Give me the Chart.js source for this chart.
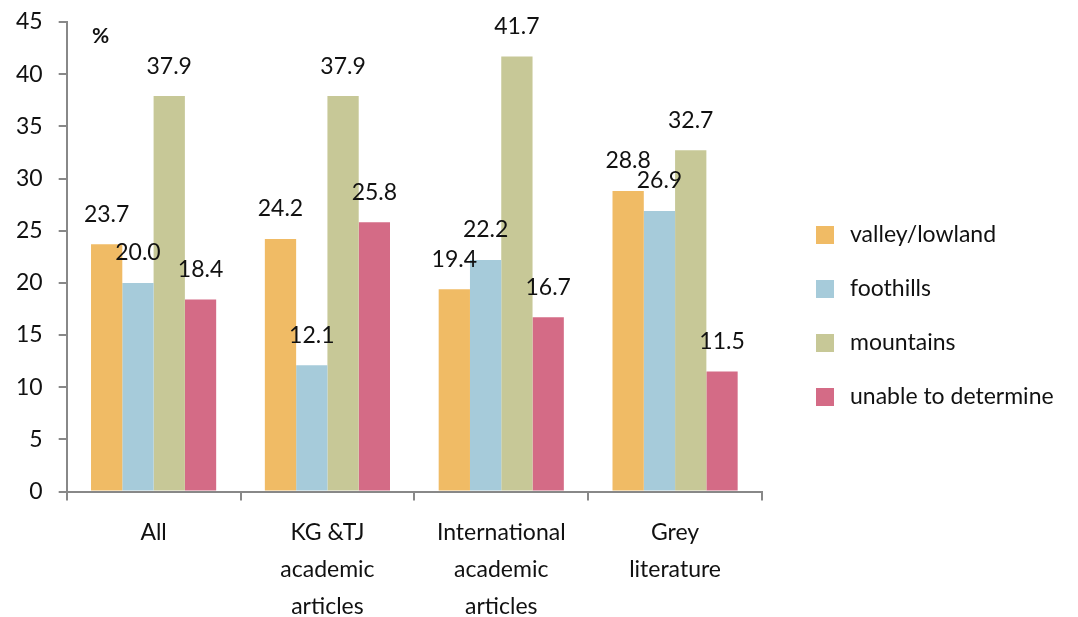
<!DOCTYPE html>
<html>
<head>
<meta charset="utf-8">
<script src="https://cdn.jsdelivr.net/npm/chart.js@4/dist/chart.umd.min.js"></script>
<style>
  body { margin: 0; background: #fff; }
</style>
</head>
<body>
<canvas id="barChart" width="1078" height="617"></canvas>
<script>
var categories = ['All', ['KG &TJ', 'academic', 'articles'], ['International', 'academic', 'articles'], ['Grey', 'literature']];
var seriesNames = ['valley/lowland', 'foothills', 'mountains', 'unable to determine'];
var valley = [23.7, 24.2, 19.4, 28.8];
var foothills = [20.0, 12.1, 22.2, 26.9];
var mountains = [37.9, 37.9, 41.7, 32.7];
var unable = [18.4, 25.8, 16.7, 11.5];
var yTicks = [0, 5, 10, 15, 20, 25, 30, 35, 40, 45];

var colors = ['#F0BB65', '#A6CBDA', '#C7C897', '#D46B86'];
var values = [valley, foothills, mountains, unable];
var fontFamily = 'Lato, "Open Sans", sans-serif';

var datasets = [];
for (var i = 0; i < values.length; i++) {
  datasets.push({
    label: seriesNames[i],
    data: values[i],
    backgroundColor: colors[i],
    borderWidth: 0
  });
}

// value labels above bars, the "%" unit and the legend on the right
var labelsPlugin = {
  id: 'valueLabels',
  afterDatasetsDraw: function(chart) {
    var ctx = chart.ctx;
    var area = chart.chartArea;
    ctx.save();
    ctx.fillStyle = '#111';
    ctx.textAlign = 'center';
    ctx.textBaseline = 'middle';
    ctx.font = '23px ' + fontFamily;
    chart.data.datasets.forEach(function(ds, di) {
      chart.getDatasetMeta(di).data.forEach(function(bar, j) {
        ctx.fillText(ds.data[j].toFixed(1), bar.x, bar.y - 30);
      });
    });
    ctx.font = 'bold 21px ' + fontFamily;
    ctx.fillText('%', area.left + 34, area.top + 14);

    // legend
    ctx.textAlign = 'left';
    ctx.font = '23px ' + fontFamily;
    var lx = area.right + 54;
    var ly = 235;
    chart.data.datasets.forEach(function(ds, di) {
      var y = ly + di * 54;
      ctx.fillStyle = ds.backgroundColor;
      ctx.fillRect(lx, y - 9, 18, 18);
      ctx.fillStyle = '#111';
      ctx.fillText(ds.label, lx + 34, y);
    });
    ctx.restore();
  }
};

var ctx = document.getElementById('barChart');
var myBarChart = new Chart(ctx, {
  type: 'bar',
  data: {
    labels: categories,
    datasets: datasets
  },
  plugins: [labelsPlugin],
  options: {
    responsive: false,
    animation: false,
    layout: { padding: { top: 22, left: 0, right: 316, bottom: -22 } },
    datasets: { bar: { categoryPercentage: 0.72, barPercentage: 1.0 } },
    plugins: {
      tooltip: { enabled: false },
      legend: { display: false }
    },
    scales: {
      x: {
        grid: { drawOnChartArea: false, offset: true, tickLength: 9, color: '#888', lineWidth: 2 },
        border: { color: '#888', width: 2 },
        ticks: { color: '#111', padding: 14, font: { family: fontFamily, size: 23, lineHeight: 1.6 }, maxRotation: 0 }
      },
      y: {
        min: 0,
        max: 45,
        afterBuildTicks: function(axis) {
          axis.ticks = yTicks.map(function(v) { return { value: v }; });
        },
        grid: { drawOnChartArea: false, tickLength: 8, color: '#888', lineWidth: 2 },
        border: { color: '#888', width: 2 },
        ticks: { color: '#111', padding: 16, font: { family: fontFamily, size: 23, lineHeight: 0.5 } }
      }
    }
  }
});
</script>
</body>
</html>
